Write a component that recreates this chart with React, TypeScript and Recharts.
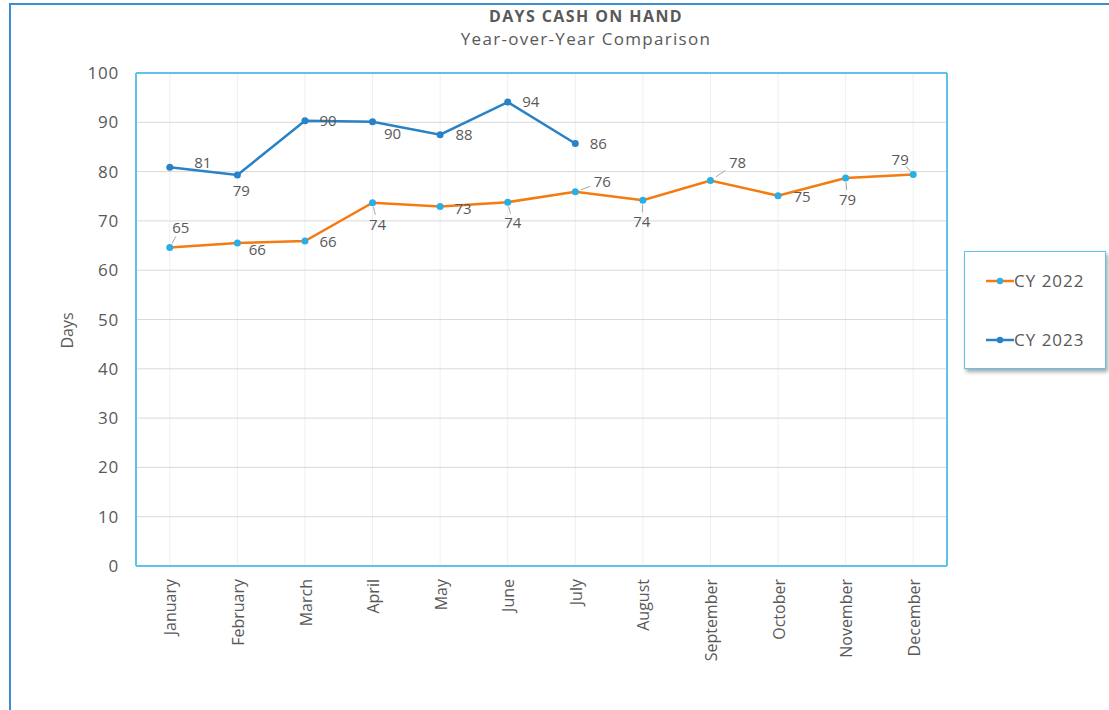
import React from 'react';
import { LineChart, Line, XAxis, YAxis, CartesianGrid } from 'recharts';

// Days cash on hand
const months = [
  'January', 'February', 'March', 'April', 'May', 'June',
  'July', 'August', 'September', 'October', 'November', 'December',
];
const cy2022 = [64.6, 65.5, 65.9, 73.7, 72.9, 73.8, 75.9, 74.2, 78.2, 75.1, 78.7, 79.4];
const cy2023 = [80.9, 79.3, 90.3, 90.1, 87.5, 94.1, 85.7];
const yTicks = [0, 10, 20, 30, 40, 50, 60, 70, 80, 90, 100];

// label placement (dx, dy from the point, leader line?) — mimics Excel's hand-moved labels
const labels2022: [number, number, boolean][] = [
  [11, -20, true], [20, 7, false], [23, 1, false], [5, 22, true], [23, 2, false], [5, 21, true],
  [27, -10, true], [-1, 22, true], [27, -18, true], [24, 1, false], [2, 22, true], [-13, -15, true],
];
const labels2023: [number, number, boolean][] = [
  [33, -4, false], [4, 16, false], [23, 0, false], [20, 12, false], [24, 0, false], [23, 0, false], [23, 0, false],
];

const data = months.map((m, i) => ({ month: m, cy2022: cy2022[i], cy2023: cy2023[i] }));

const FONT = '"Open Sans", Lato, sans-serif';
const TEXT = '#595959';
const ORANGE = '#f47a12';
const BLUE = '#2a82c6';
const CYAN = '#2aaee4';
const FRAME = '#5ec3ea';

const makeLabel = (placements: [number, number, boolean][]) => (props: any) => {
  const { x, y, index, value } = props;
  if (value == null || x == null) return null;
  const [dx, dy, leader] = placements[index] || [20, 0, false];
  return (
    <g key={`l-${index}`}>
      {leader && (
        <line
          x1={x + dx * 0.2}
          y1={y + dy * 0.2}
          x2={x + dx * 0.55}
          y2={y + dy * 0.55}
          stroke="#a6a6a6"
          strokeWidth={1}
        />
      )}
      <text x={x + dx} y={y + dy} dy="0.35em" textAnchor="middle" fill={TEXT} fontSize={15} fontFamily={FONT}>
        {Math.round(value)}
      </text>
    </g>
  );
};

const MonthTick = (props: any) => {
  const { x, y, payload } = props;
  return (
    <text
      transform={`translate(${x + 1},${y + 11}) rotate(-90)`}
      textAnchor="end"
      dy="0.35em"
      fill={TEXT}
      fontSize={16}
      fontFamily={FONT}
    >
      {payload.value}
    </text>
  );
};

const LegendBox = () => {
  const items = [
    { name: 'CY 2022', line: ORANGE, dot: CYAN },
    { name: 'CY 2023', line: BLUE, dot: BLUE },
  ];
  return (
    <div
      style={{
        position: 'absolute',
        left: 964,
        top: 251,
        width: 142,
        height: 118,
        border: `1px solid ${FRAME}`,
        background: '#fff',
        boxShadow: '2px 3px 4px rgba(0,0,0,0.35)',
        boxSizing: 'border-box',
        fontFamily: FONT,
        color: TEXT,
        fontSize: 17,
        letterSpacing: 1,
      }}
    >
      {items.map((it, i) => (
        <div
          key={it.name}
          style={{ position: 'absolute', left: 21, top: i === 0 ? 18 : 77, display: 'flex', alignItems: 'center', lineHeight: '22px' }}
        >
          <svg width={28} height={10}>
            <line x1={0} y1={5} x2={28} y2={5} stroke={it.line} strokeWidth={2.5} />
            <circle cx={14} cy={5} r={3.2} fill={it.dot} />
          </svg>
          <span>{it.name}</span>
        </div>
      ))}
    </div>
  );
};

export default function App() {
  return (
    <div style={{ position: 'absolute', left: 0, top: 0, width: 1109, height: 710, background: '#fff', overflow: 'hidden' }}>
      <div
        style={{
          position: 'absolute',
          left: 9,
          top: 3,
          width: 1100,
          height: 707,
          borderTop: '2px solid #3b8fd0',
          borderLeft: '2px solid #3b8fd0',
          boxSizing: 'border-box',
        }}
      />
      <div
        style={{
          position: 'absolute', left: 0, width: 1172, top: 5, textAlign: 'center',
          fontFamily: FONT, fontWeight: 700, fontSize: 16, letterSpacing: 1.4, color: TEXT,
        }}
      >
        DAYS CASH ON HAND
      </div>
      <div
        style={{
          position: 'absolute', left: 0, width: 1172, top: 27, textAlign: 'center',
          fontFamily: FONT, fontSize: 17, letterSpacing: 1.3, color: TEXT,
        }}
      >
        Year-over-Year Comparison
      </div>
      <div style={{ position: 'absolute', left: 0, top: 0 }}>
        <LineChart width={1109} height={710} data={data} margin={{ top: 72, right: 161, bottom: 0, left: 76 }}>
          <CartesianGrid horizontal={false} stroke="#efefef" />
          <CartesianGrid vertical={false} stroke="#d9d9d9" />
          <XAxis
            dataKey="month"
            padding={{ left: 33.8, right: 33.8 }}
            axisLine={{ stroke: FRAME, strokeWidth: 2 }}
            tickLine={false}
            tickSize={0}
            height={144}
            interval={0}
            tick={<MonthTick />}
          />
          <XAxis
            xAxisId="top"
            orientation="top"
            dataKey="month"
            height={1}
            tick={false}
            tickLine={false}
            axisLine={{ stroke: FRAME, strokeWidth: 2 }}
          />
          <YAxis
            width={60}
            domain={[0, 100]}
            ticks={yTicks}
            axisLine={{ stroke: FRAME, strokeWidth: 2 }}
            tickLine={false}
            tickSize={0}
            tickMargin={17}
            tick={{ fill: TEXT, fontSize: 17, fontFamily: FONT, letterSpacing: 0.8 }}
            label={(p: any) => {
              const vb = p.viewBox || { x: 76, y: 73, height: 493 };
              const cx = vb.x - 9;
              const cy = vb.y + vb.height / 2 + 11;
              return (
                <text
                  x={cx}
                  y={cy}
                  transform={`rotate(-90, ${cx}, ${cy})`}
                  textAnchor="middle"
                  dy="0.35em"
                  fill={TEXT}
                  fontSize={16}
                  fontFamily={FONT}
                >
                  Days
                </text>
              );
            }}
          />
          <YAxis
            yAxisId="right"
            orientation="right"
            width={1}
            domain={[0, 100]}
            tick={false}
            tickLine={false}
            axisLine={{ stroke: FRAME, strokeWidth: 2 }}
          />
          <Line
            dataKey="cy2022"
            name="CY 2022"
            stroke={ORANGE}
            strokeWidth={2.5}
            dot={{ r: 3.5, fill: CYAN, stroke: CYAN, strokeWidth: 0 }}
            label={makeLabel(labels2022)}
            isAnimationActive={false}
          />
          <Line
            dataKey="cy2023"
            name="CY 2023"
            stroke={BLUE}
            strokeWidth={2.5}
            dot={{ r: 3.5, fill: BLUE, stroke: BLUE, strokeWidth: 0 }}
            label={makeLabel(labels2023)}
            isAnimationActive={false}
          />
        </LineChart>
      </div>
      <LegendBox />
    </div>
  );
}
